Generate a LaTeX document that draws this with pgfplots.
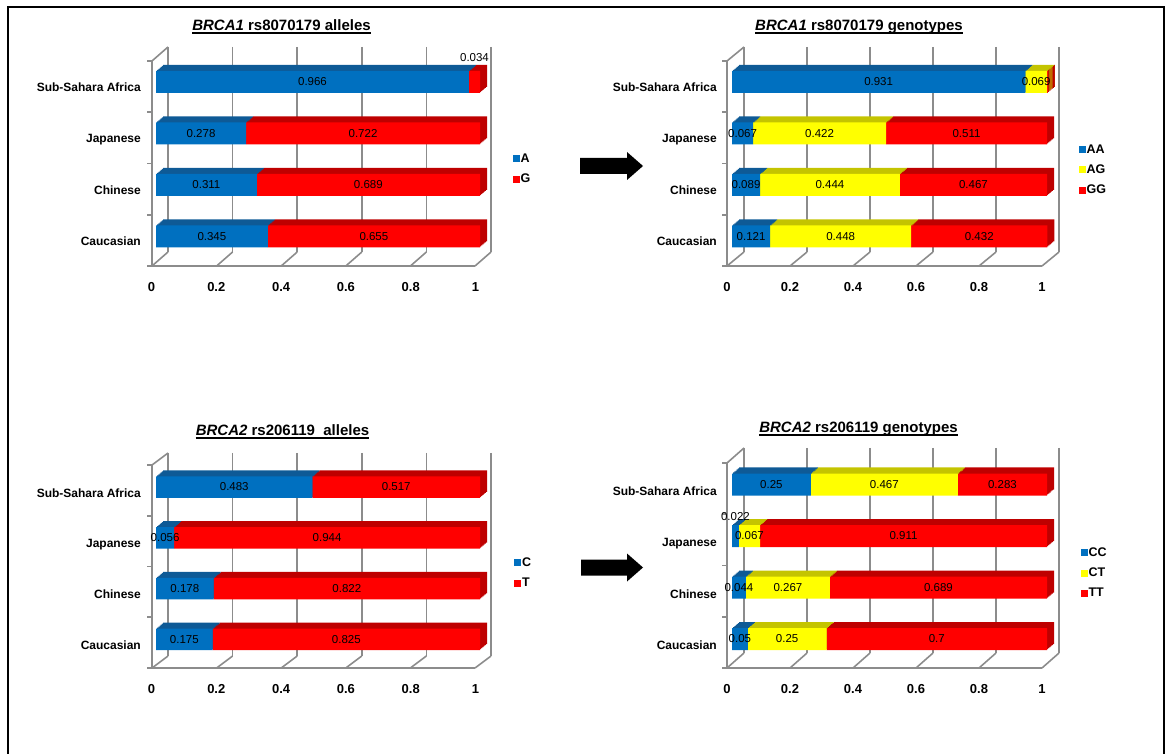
\documentclass[border=0pt]{standalone}
\usepackage{fontspec}
\setmainfont{Liberation Sans}
\usepackage{pgfplots}
\pgfplotsset{compat=1.18}
\usepackage{pgfplotstable}

\definecolor{cblue}{HTML}{0070C0}
\definecolor{cred}{HTML}{FF0000}
\definecolor{cyel}{HTML}{FFFF00}
\definecolor{dblue}{HTML}{0E5A96}
\definecolor{dred}{HTML}{BE0000}
\definecolor{dyel}{HTML}{C4C400}
\definecolor{gridgray}{HTML}{8C8C8C}

\newcommand\titlefont{\fontsize{15}{18}\selectfont\bfseries}
\newcommand\catfont{\fontsize{12}{14}\selectfont\bfseries}
\newcommand\tickfont{\fontsize{13}{15}\selectfont\bfseries}
\newcommand\datafont{\fontsize{11.5}{13}\selectfont}
\newcommand\legfont{\fontsize{12.5}{14}\selectfont\bfseries}

% category index: 0 Caucasian, 1 Chinese, 2 Japanese, 3 Sub-Sahara Africa
% dy: vertical offset (px) of a value label lifted above its bar
% BRCA1 rs8070179 alleles
\pgfplotstableread{
c v lab dy
0 0.345 0.345 0
1 0.311 0.311 0
2 0.278 0.278 0
3 0.966 0.966 0
}\aA
\pgfplotstableread{
c v lab dy
0 0.655 0.655 0
1 0.689 0.689 0
2 0.722 0.722 0
3 0.034 0.034 24
}\aG
% BRCA1 rs8070179 genotypes
\pgfplotstableread{
c v lab dy
0 0.121 0.121 0
1 0.089 0.089 0
2 0.067 0.067 0
3 0.931 0.931 0
}\gAA
\pgfplotstableread{
c v lab dy
0 0.448 0.448 0
1 0.444 0.444 0
2 0.422 0.422 0
3 0.069 0.069 0
}\gAG
\pgfplotstableread{
c v lab dy
0 0.432 0.432 0
1 0.467 0.467 0
2 0.511 0.511 0
3 0.003 {} 0
}\gGG
% BRCA2 rs206119 alleles
\pgfplotstableread{
c v lab dy
0 0.175 0.175 0
1 0.178 0.178 0
2 0.056 0.056 0
3 0.483 0.483 0
}\bC
\pgfplotstableread{
c v lab dy
0 0.825 0.825 0
1 0.822 0.822 0
2 0.944 0.944 0
3 0.517 0.517 0
}\bT
% BRCA2 rs206119 genotypes
\pgfplotstableread{
c v lab dy
0 0.05 0.05 0
1 0.044 0.044 0
2 0.022 0.022 19.5
3 0.25 0.25 0
}\hCC
\pgfplotstableread{
c v lab dy
0 0.25 0.25 0
1 0.267 0.267 0
2 0.067 0.067 0
3 0.467 0.467 0
}\hCT
\pgfplotstableread{
c v lab dy
0 0.7 0.7 0
1 0.689 0.689 0
2 0.911 0.911 0
3 0.283 0.283 0
}\hTT

% segment centres (cx) for the value labels
\newcommand\twoseries[2]{%
  \pgfplotstablecreatecol[expr={0.5*\thisrow{v}}]{cx}{#1}%
  \pgfplotstablecreatecol[copy column from table={#1}{v}]{p}{#2}%
  \pgfplotstablecreatecol[expr={\thisrow{p}+0.5*\thisrow{v}}]{cx}{#2}}
\newcommand\threeseries[3]{%
  \twoseries{#1}{#2}%
  \pgfplotstablecreatecol[expr={\thisrow{p}+\thisrow{v}}]{q}{#2}%
  \pgfplotstablecreatecol[copy column from table={#2}{q}]{p}{#3}%
  \pgfplotstablecreatecol[expr={\thisrow{p}+0.5*\thisrow{v}}]{cx}{#3}}
\twoseries{\aA}{\aG}
\threeseries{\gAA}{\gAG}{\gGG}
\twoseries{\bC}{\bT}
\threeseries{\hCC}{\hCT}{\hTT}

\pgfplotsset{
  plainbase/.style={scale only axis, anchor=south west,
    xmin=0, xmax=1, ymin=-0.5, ymax=3.5, clip=false},
  chartbase/.style={plainbase, xbar stacked,
    ytick={0,1,2,3}, xtick={0,0.2,0.4,0.6,0.8,1}},
  hiddenaxis/.style={chartbase, hide axis},
  labelaxis/.style={plainbase, hide axis},
  frontaxis/.style={chartbase,
    axis line style={draw=none}, tick style={draw=none}, major tick length=0pt,
    xticklabels={0,0.2,0.4,0.6,0.8,1},
    yticklabels={Caucasian,Chinese,Japanese,Sub-Sahara Africa},
    yticklabel style={font=\catfont, anchor=base east, inner sep=0pt, xshift=-15pt},
    xticklabel style={font=\tickfont, anchor=base, inner sep=0pt},
    legend style={draw=none, fill=none, inner sep=0pt, anchor=west,
      font=\legfont, row sep=8pt, cells={anchor=west},
      nodes={inner sep=1pt}},
    legend image code/.code={\fill[##1] (0pt,-3.5pt) rectangle (7pt,3.5pt);}},
  labelplot/.style={draw=none, mark=none, nodes near coords,
    point meta=explicit symbolic,
    every node near coord/.append style={anchor=center, inner sep=0pt,
      font=\datafont, text=black}},
}

% walls, floor and gridlines of a pseudo-3D chart (x0, scale, front top, floor, depth x, depth y)
\newcommand\walls[6]{%
  \begin{scope}[x=1pt,y=-1pt,yshift=753pt,line width=1.6pt,draw=gridgray]
    \foreach \v in {0,0.2,0.4,0.6,0.8,1} {
      \draw ({#1+#5+\v*#2},{#3-#6}) -- ({#1+#5+\v*#2},{#4-#6});
      \draw ({#1+\v*#2},{#4}) -- ({#1+#5+\v*#2},{#4-#6});
    }
    \draw (#1,#3) -- (#1,#4) -- ({#1+#2},#4);
    \draw (#1,#3) -- ({#1+#5},{#3-#6});
    \foreach \i in {0,...,4}
      \draw ({#1-5},{#3+\i*(#4-#3)/4}) -- (#1,{#3+\i*(#4-#3)/4});
  \end{scope}}

\begin{document}
\begin{tikzpicture}
\useasboundingbox (0pt,0pt) rectangle (1167pt,753pt);

\walls{152}{323}{61}{266}{16}{14}
\walls{727}{315}{61}{266}{17}{14}
\walls{152}{323}{465}{668}{16}{12}
\walls{727}{315}{463}{668}{17}{15}

% ---------- BRCA1 alleles ----------
\foreach \k in {6,5,4,3,2,1} {
\begin{axis}[hiddenaxis, at={({156pt+\k*7pt/6},{490.75pt+\k*1pt})},
  width=324pt, height=206pt, bar width=22pt]
\addplot[fill=dblue,draw=none] table[x=v,y=c]{\aA};
\addplot[fill=dred,draw=none] table[x=v,y=c]{\aG};
\end{axis}}
\begin{axis}[frontaxis, at={(156pt,490.75pt)}, width=324pt, height=206pt, bar width=22pt,
  xticklabel style={xshift=-4.5pt, yshift=-29.5pt}, yticklabel style={yshift=-9.5pt},
  legend style={at={(1.100,0.4527)}}, legend entries={A,G}]
\addplot[fill=cblue,draw=none] table[x=v,y=c]{\aA};
\addplot[fill=cred,draw=none] table[x=v,y=c]{\aG};
\end{axis}
\begin{axis}[labelaxis, at={(156pt,490.75pt)}, width=324pt, height=206pt]
\addplot[labelplot] table[x=cx, y expr=\thisrow{c}+\thisrow{dy}/51.5, meta=lab]{\aA};
\addplot[labelplot] table[x=cx, y expr=\thisrow{c}+\thisrow{dy}/51.5, meta=lab]{\aG};
\end{axis}

% ---------- BRCA1 genotypes ----------
\foreach \k in {6,5,4,3,2,1} {
\begin{axis}[hiddenaxis, at={({732pt+\k*7pt/6},{490.75pt+\k*1pt})},
  width=315pt, height=206pt, bar width=22pt]
\addplot[fill=dblue,draw=none] table[x=v,y=c]{\gAA};
\addplot[fill=dyel,draw=none] table[x=v,y=c]{\gAG};
\addplot[fill=dred,draw=none] table[x=v,y=c]{\gGG};
\end{axis}}
\begin{axis}[frontaxis, at={(732pt,490.75pt)}, width=315pt, height=206pt, bar width=22pt,
  xticklabel style={xshift=-5pt, yshift=-29.5pt}, yticklabel style={yshift=-9.5pt},
  legend style={at={(1.100,0.448)}}, legend entries={AA,AG,GG}]
\addplot[fill=cblue,draw=none] table[x=v,y=c]{\gAA};
\addplot[fill=cyel,draw=none] table[x=v,y=c]{\gAG};
\addplot[fill=cred,draw=none] table[x=v,y=c]{\gGG};
\end{axis}
\begin{axis}[labelaxis, at={(732pt,490.75pt)}, width=315pt, height=206pt]
\addplot[labelplot] table[x=cx, y expr=\thisrow{c}+\thisrow{dy}/51.5, meta=lab]{\gAA};
\addplot[labelplot] table[x=cx, y expr=\thisrow{c}+\thisrow{dy}/51.5, meta=lab]{\gAG};
\addplot[labelplot] table[x=cx, y expr=\thisrow{c}+\thisrow{dy}/51.5, meta=lab]{\gGG};
\end{axis}

% ---------- BRCA2 alleles ----------
\foreach \k in {6,5,4,3,2,1} {
\begin{axis}[hiddenaxis, at={({156pt+\k*7pt/6},{88.1pt+\k*1pt})},
  width=324pt, height=203.3pt, bar width=21.5pt]
\addplot[fill=dblue,draw=none] table[x=v,y=c]{\bC};
\addplot[fill=dred,draw=none] table[x=v,y=c]{\bT};
\end{axis}}
\begin{axis}[frontaxis, at={(156pt,88.1pt)}, width=324pt, height=203.3pt, bar width=21.5pt,
  xticklabel style={xshift=-4.5pt, yshift=-28.1pt}, yticklabel style={yshift=-10pt},
  legend style={at={(1.105,0.452)}}, legend entries={C,T}]
\addplot[fill=cblue,draw=none] table[x=v,y=c]{\bC};
\addplot[fill=cred,draw=none] table[x=v,y=c]{\bT};
\end{axis}
\begin{axis}[labelaxis, at={(156pt,88.1pt)}, width=324pt, height=203.3pt]
\addplot[labelplot] table[x=cx, y expr=\thisrow{c}+\thisrow{dy}/50.8, meta=lab]{\bC};
\addplot[labelplot] table[x=cx, y expr=\thisrow{c}+\thisrow{dy}/50.8, meta=lab]{\bT};
\end{axis}

% ---------- BRCA2 genotypes ----------
\foreach \k in {6,5,4,3,2,1} {
\begin{axis}[hiddenaxis, at={({732pt+\k*7pt/6},{88.25pt+\k*1pt})},
  width=315pt, height=206pt, bar width=22pt]
\addplot[fill=dblue,draw=none] table[x=v,y=c]{\hCC};
\addplot[fill=dyel,draw=none] table[x=v,y=c]{\hCT};
\addplot[fill=dred,draw=none] table[x=v,y=c]{\hTT};
\end{axis}}
\begin{axis}[frontaxis, at={(732pt,88.25pt)}, width=315pt, height=206pt, bar width=22pt,
  xticklabel style={xshift=-5pt, yshift=-29pt}, yticklabel style={yshift=-10.5pt},
  legend style={at={(1.106,0.445)}}, legend entries={CC,CT,TT}]
\addplot[fill=cblue,draw=none] table[x=v,y=c]{\hCC};
\addplot[fill=cyel,draw=none] table[x=v,y=c]{\hCT};
\addplot[fill=cred,draw=none] table[x=v,y=c]{\hTT};
\end{axis}
\begin{axis}[labelaxis, at={(732pt,88.25pt)}, width=315pt, height=206pt]
\addplot[labelplot] table[x=cx, y expr=\thisrow{c}+\thisrow{dy}/51.5, meta=lab]{\hCC};
\addplot[labelplot] table[x=cx, y expr=\thisrow{c}+\thisrow{dy}/51.5, meta=lab]{\hCT};
\addplot[labelplot] table[x=cx, y expr=\thisrow{c}+\thisrow{dy}/51.5, meta=lab]{\hTT};
\end{axis}

% ---------- titles, arrows and frame ----------
\begin{scope}[x=1pt,y=-1pt,yshift=753pt]
  \node[anchor=base, inner sep=0pt, font=\titlefont] (t1) at (281.5,31) {\textit{BRCA1} rs8070179 alleles};
  \node[anchor=base, inner sep=0pt, font=\titlefont] (t2) at (859,31) {\textit{BRCA1} rs8070179 genotypes};
  \node[anchor=base, inner sep=0pt, font=\titlefont] (t3) at (282.5,436) {\textit{BRCA2} rs206119\ \ alleles};
  \node[anchor=base, inner sep=0pt, font=\titlefont] (t4) at (858.5,433) {\textit{BRCA2} rs206119 genotypes};
  \foreach \t in {t1,t2,t3,t4}
    \draw[line width=1.2pt] ([yshift=-2pt]\t.base west) -- ([yshift=-2pt]\t.base east);
  \fill (580,158) -- (627,158) -- (627,152) -- (643,166) -- (627,180) -- (627,174) -- (580,174) -- cycle;
  \fill (581,559.5) -- (627,559.5) -- (627,553.5) -- (643,567.5) -- (627,581.5) -- (627,575.5) -- (581,575.5) -- cycle;
  \draw[line width=2pt] (8,760) -- (8,7) -- (1164,7) -- (1164,760);
\end{scope}
\end{tikzpicture}
\end{document}
